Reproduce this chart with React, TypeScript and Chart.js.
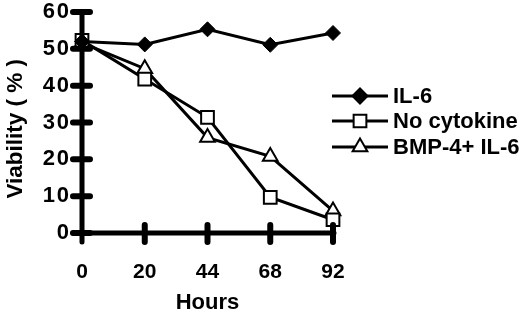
import React, { useEffect, useRef } from "react";
import { Chart, registerables } from "chart.js";
import { drawPoint } from "chart.js/helpers";

Chart.register(...registerables);

const hours = ["0", "20", "44", "68", "92"];
const il6 = [52, 51.2, 55.3, 51.1, 54.3];
const noCytokine = [52.3, 41.8, 31.4, 9.7, 3.6];
const bmp4Il6 = [51.6, 44.6, 25.9, 20.8, 6.0];
const yTicks = [0, 10, 20, 30, 40, 50, 60];

const FONT = "'Liberation Sans', Arial, sans-serif";

const crossTicks = {
  id: "crossTicks",
  afterDatasetsDraw(chart: any) {
    const { ctx, chartArea, scales } = chart;
    const x = scales.x;
    const y = scales.y;
    ctx.save();
    ctx.strokeStyle = "#000";
    ctx.lineCap = "round";
    ctx.lineWidth = 5;
    ctx.beginPath();
    ctx.moveTo(chartArea.left, y.getPixelForValue(60));
    ctx.lineTo(chartArea.left, chartArea.bottom + 9);
    ctx.moveTo(chartArea.left - 9, chartArea.bottom);
    ctx.lineTo(chartArea.right + 1, chartArea.bottom);
    ctx.stroke();
    ctx.lineWidth = 6;
    ctx.beginPath();
    yTicks.forEach((v) => {
      const py = y.getPixelForValue(v);
      ctx.moveTo(chartArea.left - 9, py);
      ctx.lineTo(chartArea.left + 8, py);
    });
    hours.forEach((_, i) => {
      if (i === 0) return;
      const px = x.getPixelForValue(i);
      ctx.moveTo(px, chartArea.bottom - 8);
      ctx.lineTo(px, chartArea.bottom + 9);
    });
    ctx.stroke();
    ctx.restore();
  },
};

const lineLegend = {
  id: "lineLegend",
  afterDraw(chart: any) {
    const { ctx } = chart;
    const rows = [96, 121, 147];
    ctx.save();
    chart.data.datasets.forEach((ds: any, i: number) => {
      const y = rows[i];
      ctx.strokeStyle = "#000";
      ctx.lineWidth = 3;
      ctx.beginPath();
      ctx.moveTo(332, y);
      ctx.lineTo(388, y);
      ctx.stroke();
      ctx.fillStyle = ds.pointBackgroundColor;
      ctx.strokeStyle = "#000";
      ctx.lineWidth = 2;
      drawPoint(ctx, { pointStyle: ds.pointStyle, radius: ds.pointRadius, rotation: 0, borderWidth: 2 }, 360, y);
      ctx.fillStyle = "#000";
      ctx.font = `bold 22px ${FONT}`;
      ctx.textBaseline = "middle";
      ctx.textAlign = "left";
      ctx.fillText(ds.label, 393, y + 1);
    });
    ctx.restore();
  },
};

export default function App() {
  const ref = useRef<HTMLCanvasElement>(null);
  useEffect(() => {
    document.body.style.margin = "0";
    const chart = new Chart(ref.current!, {
      type: "line",
      data: {
        labels: hours,
        datasets: [
          {
            label: "IL-6",
            data: il6,
            borderColor: "#000",
            borderWidth: 3,
            pointStyle: "rectRot",
            pointRadius: 7.5,
            pointBackgroundColor: "#000",
            pointBorderColor: "#000",
            pointBorderWidth: 1,
          },
          {
            label: "No cytokine",
            data: noCytokine,
            borderColor: "#000",
            borderWidth: 3,
            pointStyle: "rect",
            pointRadius: 9,
            pointBackgroundColor: "#fff",
            pointBorderColor: "#000",
            pointBorderWidth: 2,
          },
          {
            label: "BMP-4+ IL-6",
            data: bmp4Il6,
            borderColor: "#000",
            borderWidth: 3,
            pointStyle: "triangle",
            pointRadius: 8.5,
            pointBackgroundColor: "#fff",
            pointBorderColor: "#000",
            pointBorderWidth: 2,
          },
        ],
      },
      options: {
        responsive: false,
        animation: false,
        layout: { padding: { top: 12, right: 187, left: 0, bottom: 0 } },
        plugins: { legend: { display: false }, tooltip: { enabled: false } },
        scales: {
          x: {
            grid: { display: false, drawTicks: false },
            border: { display: false },
            ticks: {
              color: "#000",
              font: { family: FONT, weight: "bold", size: 21 },
              padding: 27,
              maxRotation: 0,
            },
            title: {
              display: true,
              text: "Hours",
              color: "#000",
              font: { family: FONT, weight: "bold", size: 22 },
              padding: { top: 16, bottom: -3 },
            },
            afterFit(scale: any) {
              scale.height = 80;
              scale.paddingLeft = 0;
              scale.paddingRight = 0;
            },
          },
          y: {
            min: 0,
            max: 60,
            grid: { display: false, drawTicks: false },
            border: { display: false },
            ticks: {
              stepSize: 10,
              color: "#000",
              font: { family: FONT, weight: "bold", size: 22 },
              padding: 13,
              callback: (v: any) => String(v).split("").join("\u200A"),
            },
            title: {
              display: true,
              text: "Viability ( % )  ",
              color: "#000",
              font: { family: FONT, weight: "bold", size: 22.5 },
              padding: { top: 2, bottom: 0 },
            },
            afterFit(scale: any) {
              scale.width = 82;
              scale.paddingTop = 0;
              scale.paddingBottom = 0;
            },
          },
        },
      },
      plugins: [crossTicks, lineLegend],
    });
    return () => chart.destroy();
  }, []);
  return <canvas ref={ref} width={520} height={313} style={{ display: "block" }} />;
}
